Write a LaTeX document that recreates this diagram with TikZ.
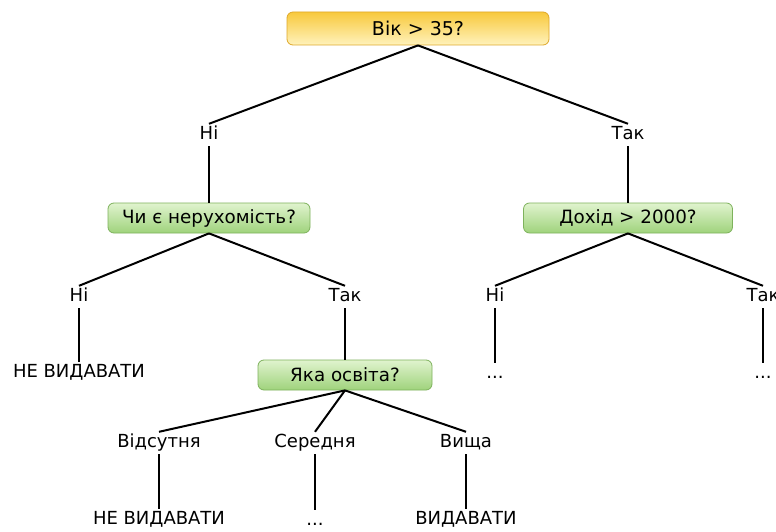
\documentclass[tikz,border=0pt]{standalone}
\usepackage{fontspec}
\setmainfont{DejaVu Sans}
\begin{document}
\begin{tikzpicture}[x=1pt,y=-1pt,
  every node/.style={font=\fontsize{18}{21}\selectfont},
  lbl/.style={inner sep=3pt,text height=12.5pt,text depth=3.5pt},
  ybox/.style={rounded corners=6pt,draw=yboxline,line width=0.8pt,top color=yboxtop,bottom color=yboxbot,minimum height=33pt,inner sep=0pt,font=\fontsize{19}{22}\selectfont},
  gbox/.style={rounded corners=6pt,draw=gboxline,line width=0.8pt,top color=gboxtop,bottom color=gboxbot,minimum height=30pt,inner sep=0pt,font=\fontsize{18.3}{21}\selectfont},
  link/.style={line width=2pt,black}]
\definecolor{yboxline}{HTML}{DFA82A}
\definecolor{yboxtop}{HTML}{F8C93C}
\definecolor{yboxbot}{HTML}{FFF2BC}
\definecolor{gboxline}{HTML}{7EB25C}
\definecolor{gboxtop}{HTML}{E0F3CE}
\definecolor{gboxbot}{HTML}{9FD37C}
\useasboundingbox (0,0) rectangle (776,532);
\fill[white] (0,0) rectangle (776,532);
% boxes
\node[ybox,minimum width=262pt] (root) at (418,28.5) {Вік > 35?};
\node[gbox,minimum width=202pt] (b1) at (209,218) {Чи є нерухомість?};
\node[gbox,minimum width=209pt] (b2) at (628,218) {Дохід > 2000?};
\node[gbox,minimum width=174pt] (b3) at (345,375) {Яка освіта?};
% labels
\node[lbl] (n1) at (209,135) {Ні};
\node[lbl] (t1) at (628,135) {Так};
\node[lbl] (n2) at (79,297) {Ні};
\node[lbl] (t2) at (345,297) {Так};
\node[lbl] (n3) at (495,297) {Ні};
\node[lbl] (t3) at (763,297) {Так};
\node[lbl] (l1) at (79,373) {НЕ ВИДАВАТИ};
\node[lbl] (d1) at (495,374) {...};
\node[lbl] (d2) at (763,374) {...};
\node[lbl] (e1) at (159,443) {Відсутня};
\node[lbl] (e2) at (315,443) {Середня};
\node[lbl] (e3) at (466,443) {Вища};
\node[lbl] (l2) at (159,520) {НЕ ВИДАВАТИ};
\node[lbl] (d3) at (315,521) {...};
\node[lbl] (l3) at (466,520) {ВИДАВАТИ};
% connectors
\draw[link] (root.south) -- (n1.north);
\draw[link] (root.south) -- (t1.north);
\draw[link] (n1.south) -- (b1.north);
\draw[link] (t1.south) -- (b2.north);
\draw[link] (b1.south) -- (n2.north);
\draw[link] (b1.south) -- (t2.north);
\draw[link] (b2.south) -- (n3.north);
\draw[link] (b2.south) -- (t3.north);
\draw[link] (n2.south) -- (l1.north);
\draw[link] (t2.south) -- (b3.north);
\draw[link] (n3.south) -- (d1.north);
\draw[link] (t3.south) -- (d2.north);
\draw[link] (b3.south) -- (e1.north);
\draw[link] (b3.south) -- (e2.north);
\draw[link] (b3.south) -- (e3.north);
\draw[link] (e1.south) -- (l2.north);
\draw[link] (e2.south) -- (d3.north);
\draw[link] (e3.south) -- (l3.north);
\end{tikzpicture}
\end{document}
